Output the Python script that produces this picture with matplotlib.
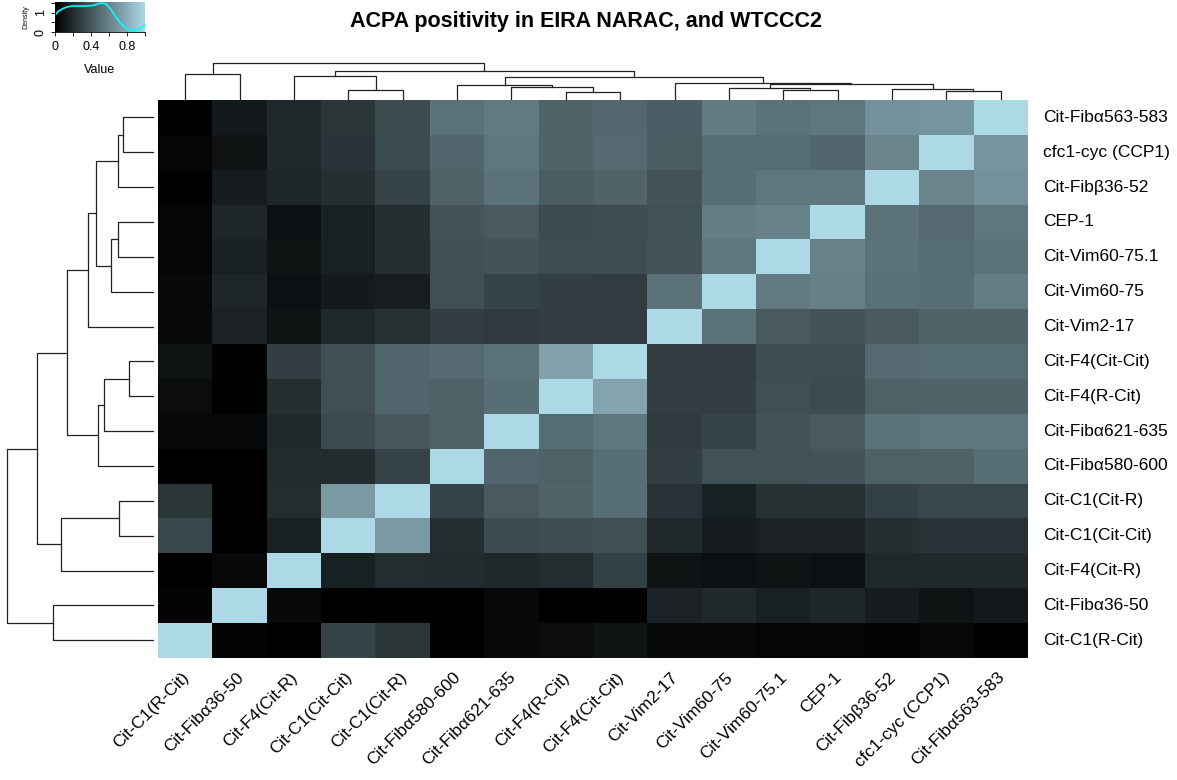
import numpy as np
import matplotlib
matplotlib.use("Agg")
import matplotlib.pyplot as plt
from matplotlib.colors import LinearSegmentedColormap
from matplotlib.transforms import offset_copy

plt.rcParams['font.family'] = ['Liberation Sans', 'DejaVu Sans']

# data ------------------------------------------------------------

row_labels = ['Cit-Fibα563-583', 'cfc1-cyc (CCP1)', 'Cit-Fibβ36-52', 'CEP-1',
              'Cit-Vim60-75.1', 'Cit-Vim60-75', 'Cit-Vim2-17', 'Cit-F4(Cit-Cit)',
              'Cit-F4(R-Cit)', 'Cit-Fibα621-635', 'Cit-Fibα580-600', 'Cit-C1(Cit-R)',
              'Cit-C1(Cit-Cit)', 'Cit-F4(Cit-R)', 'Cit-Fibα36-50', 'Cit-C1(R-Cit)']

col_labels = ['Cit-C1(R-Cit)', 'Cit-Fibα36-50', 'Cit-F4(Cit-R)', 'Cit-C1(Cit-Cit)',
              'Cit-C1(Cit-R)', 'Cit-Fibα580-600', 'Cit-Fibα621-635', 'Cit-F4(R-Cit)',
              'Cit-F4(Cit-Cit)', 'Cit-Vim2-17', 'Cit-Vim60-75', 'Cit-Vim60-75.1',
              'CEP-1', 'Cit-Fibβ36-52', 'cfc1-cyc (CCP1)', 'Cit-Fibα563-583']

positivity = [
    [0.01, 0.12, 0.19, 0.25, 0.35, 0.53, 0.56, 0.46, 0.48, 0.44, 0.57, 0.53, 0.55, 0.67, 0.69, 1.00],
    [0.03, 0.09, 0.19, 0.24, 0.35, 0.47, 0.55, 0.46, 0.49, 0.43, 0.50, 0.50, 0.47, 0.62, 1.00, 0.69],
    [0.01, 0.13, 0.18, 0.22, 0.32, 0.46, 0.53, 0.43, 0.46, 0.39, 0.51, 0.55, 0.55, 1.00, 0.62, 0.67],
    [0.03, 0.18, 0.08, 0.15, 0.22, 0.39, 0.42, 0.35, 0.36, 0.38, 0.58, 0.60, 1.00, 0.53, 0.49, 0.55],
    [0.03, 0.15, 0.09, 0.15, 0.22, 0.37, 0.39, 0.36, 0.36, 0.39, 0.55, 1.00, 0.60, 0.53, 0.50, 0.53],
    [0.04, 0.18, 0.08, 0.12, 0.14, 0.37, 0.32, 0.29, 0.28, 0.53, 1.00, 0.57, 0.59, 0.52, 0.51, 0.58],
    [0.05, 0.16, 0.09, 0.19, 0.23, 0.29, 0.27, 0.29, 0.28, 1.00, 0.53, 0.42, 0.39, 0.42, 0.46, 0.46],
    [0.09, 0.01, 0.29, 0.37, 0.47, 0.49, 0.53, 0.74, 1.00, 0.28, 0.28, 0.36, 0.36, 0.49, 0.50, 0.50],
    [0.06, 0.01, 0.22, 0.37, 0.47, 0.45, 0.51, 1.00, 0.76, 0.29, 0.29, 0.37, 0.35, 0.45, 0.46, 0.46],
    [0.04, 0.04, 0.19, 0.35, 0.41, 0.45, 1.00, 0.50, 0.55, 0.27, 0.32, 0.39, 0.42, 0.53, 0.55, 0.55],
    [0.00, 0.00, 0.20, 0.20, 0.31, 1.00, 0.47, 0.45, 0.51, 0.29, 0.38, 0.38, 0.39, 0.45, 0.46, 0.51],
    [0.25, 0.00, 0.21, 0.71, 1.00, 0.31, 0.42, 0.46, 0.51, 0.24, 0.15, 0.23, 0.23, 0.30, 0.33, 0.33],
    [0.33, 0.00, 0.15, 1.00, 0.71, 0.21, 0.35, 0.36, 0.37, 0.19, 0.13, 0.16, 0.16, 0.22, 0.24, 0.24],
    [0.00, 0.04, 1.00, 0.15, 0.21, 0.20, 0.19, 0.21, 0.30, 0.09, 0.08, 0.09, 0.08, 0.19, 0.19, 0.19],
    [0.02, 1.00, 0.04, 0.00, 0.00, 0.00, 0.04, 0.00, 0.01, 0.16, 0.19, 0.15, 0.18, 0.13, 0.09, 0.12],
    [1.00, 0.02, 0.00, 0.32, 0.25, 0.00, 0.04, 0.06, 0.09, 0.05, 0.04, 0.03, 0.03, 0.02, 0.04, 0.01],
]

# merges: (left, right, height), leaves numbered in display order
col_merges = [(3, 4, 8.5), (2, 16, 22.8), (0, 1, 24.8), (7, 8, 6.2), (6, 19, 11.8),
              (5, 20, 13.8), (11, 12, 8.5), (10, 22, 10.2), (14, 15, 7.8), (13, 24, 9.2),
              (23, 25, 14.5), (9, 26, 15.8), (21, 27, 21.2), (17, 28, 27.8), (18, 29, 35.8)]

row_merges = [(0, 1, 29.7), (16, 2, 34.7), (3, 4, 34.7), (18, 5, 42.3), (17, 19, 57.0),
              (20, 6, 65.3), (7, 8, 23.7), (22, 9, 48.7), (23, 10, 55.3), (21, 24, 86.3),
              (11, 12, 33.7), (26, 13, 92.3), (25, 27, 116.3), (14, 15, 100.3), (28, 29, 145.7)]

# colour key density curve, read from the key
key_value = [0.0, 0.037, 0.093, 0.149, 0.204, 0.279, 0.353, 0.428, 0.483, 0.52,
             0.569, 0.613, 0.669, 0.725, 0.781, 0.836, 0.892, 0.948, 1.0]
key_density = [0.88, 1.08, 1.22, 1.31, 1.34, 1.34, 1.34, 1.37, 1.46, 1.49,
               1.44, 1.22, 0.83, 0.49, 0.24, 0.10, 0.12, 0.20, 0.37]

# plot ------------------------------------------------------------

W, H = 1177, 780
fig = plt.figure(figsize=(W / 100, H / 100), dpi=100)


def box(x0, y0, x1, y1):
    return [x0 / W, 1 - y1 / H, (x1 - x0) / W, (y1 - y0) / H]


def dendro_segments(merges, n):
    pos = {i: float(i) for i in range(n)}
    hgt = {i: 0.0 for i in range(n)}
    segs = []
    for k, (a, b, h) in enumerate(merges):
        c = n + k
        pos[c] = (pos[a] + pos[b]) / 2
        hgt[c] = h
        segs.append(([pos[a], pos[a], pos[b], pos[b]], [hgt[a], h, h, hgt[b]]))
    return segs


cmap = LinearSegmentedColormap.from_list('key', ['black', 'lightblue'])
mat = np.array(positivity)
n = len(row_labels)

# heatmap
hx0, hy0, hx1, hy1 = 158.3, 100, 1027.7, 657.7
ax = fig.add_axes(box(hx0, hy0, hx1, hy1))
ax.imshow(mat, cmap=cmap, vmin=0, vmax=1, aspect='auto', interpolation='nearest')
ax.set_xlim(-0.5, n - 0.5)
ax.set_ylim(n - 0.5, -0.5)
ax.axis('off')

rtrans = offset_copy(ax.transData, fig=fig, x=15, y=0, units='dots')
for i, lab in enumerate(row_labels):
    ax.text(n - 0.5, i, lab, transform=rtrans, ha='left', va='center', fontsize=12.5)

ctrans = offset_copy(ax.transData, fig=fig, x=-4, y=-12, units='dots')
for j, lab in enumerate(col_labels):
    ax.text(j, n - 0.5, lab, transform=ctrans, ha='right', va='top',
            rotation=45, rotation_mode='anchor', fontsize=12.5)

# column dendrogram
axc = fig.add_axes(box(hx0, 62.7, hx1, 98.5))
for xs, ys in dendro_segments(col_merges, n):
    axc.plot(xs, ys, color='#222222', lw=0.9, clip_on=False)
axc.set_xlim(-0.5, n - 0.5)
axc.set_ylim(0, col_merges[-1][2])
axc.axis('off')

# row dendrogram
axr = fig.add_axes(box(7.3, hy0, 153, hy1))
for ys, xs in dendro_segments(row_merges, n):
    axr.plot(xs, ys, color='#222222', lw=0.9, clip_on=False)
axr.set_xlim(row_merges[-1][2], 0)
axr.set_ylim(n - 0.5, -0.5)
axr.axis('off')

# colour key
axk = fig.add_axes(box(55, 1.7, 145, 32.3))
axk.imshow(np.linspace(0, 1, 256)[None, :], cmap=cmap, aspect='auto',
           extent=[0, 1, 0, 1.56], interpolation='bilinear')
axk.plot(key_value, key_density, color='cyan', lw=1.2)
axk.set_xlim(0, 1)
axk.set_ylim(0, 1.56)
axk.set_xticks([0, 0.2, 0.4, 0.6, 0.8, 1.0])
axk.set_xticklabels(['0', '', '0.4', '', '0.8', ''], fontsize=9)
axk.set_yticks([0, 0.5, 1, 1.5])
axk.set_yticklabels(['0', '', '1', ''], fontsize=9, rotation=90, va='center')
axk.tick_params(length=3, width=0.6, pad=3)
axk.set_xlabel('Value', fontsize=9, labelpad=8)
axk.set_ylabel('Density', fontsize=5, labelpad=4)
for s in ['top', 'right']:
    axk.spines[s].set_visible(False)
for s in ['left', 'bottom']:
    axk.spines[s].set_linewidth(0.6)

fig.text(586 / W, 1 - 21.7 / H, 'ACPA positivity in EIRA NARAC, and WTCCC2',
         ha='center', va='center', fontsize=15.5, fontweight='bold')

fig.savefig('out.png', dpi=100)
